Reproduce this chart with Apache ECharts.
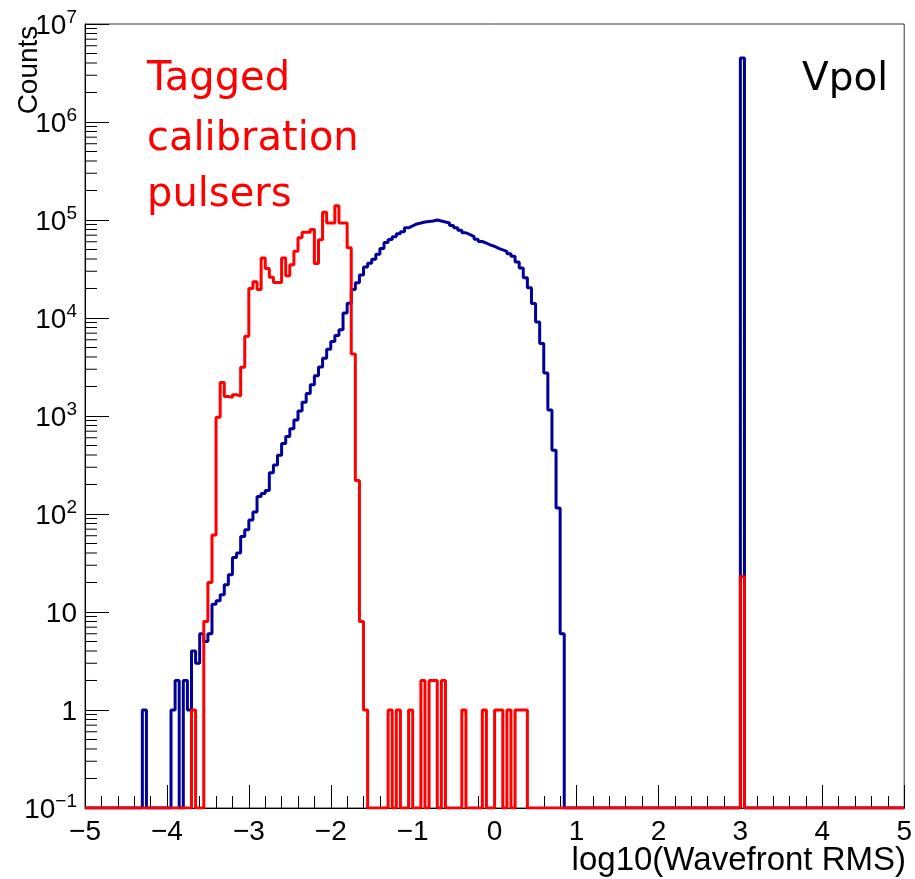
<!DOCTYPE html>
<html>
<head>
<meta charset="utf-8">
<script src="https://cdn.jsdelivr.net/npm/echarts@6/dist/echarts.min.js"></script>
<style>
  html, body { margin: 0; padding: 0; background: #ffffff; }
  #chart { width: 915px; height: 879px; }
</style>
</head>
<body>
<div id="chart"></div>
<script>
// ---- histogram binning ----
const X_MIN = -5;
const X_MAX = 5;
const BIN_WIDTH = 0.05;
const Y_FLOOR = 0.1;

// ---- axis ticks ----
const xTickValues = [-5, -4, -3, -2, -1, 0, 1, 2, 3, 4, 5];
const yDecades = [-1, 0, 1, 2, 3, 4, 5, 6, 7];
const yMinorMultipliers = [2, 3, 4, 5, 6, 7, 8, 9];

// ---- Vpol (all events), blue ----
const blueIsolated = [[-4.30, 1], [3.00, 4500000]];
const blueMainStart = -3.95;
const blueMainCounts = [
  1, 2, 0, 2, 1, 4, 3, 6, 5, 6,
  12, 13, 15, 19, 24, 36, 40, 59, 69, 87,
  105, 151, 162, 174, 263, 316, 398, 525, 617, 741,
  912, 1122, 1380, 1700, 2090, 2570, 3160, 3890, 4790, 5750,
  6610, 7590, 11220, 14125, 19500, 22900, 27500, 33100, 36300, 39800,
  44700, 51300, 58900, 63100, 67600, 72400, 75900, 83200, 87100, 91200,
  93300, 95500, 96600, 97700, 100000, 97700, 95500, 93300, 88100, 83200,
  78500, 74100, 70800, 67600, 63800, 60300, 58200, 55600, 53700, 51300,
  49500, 47900, 45200, 42700, 37200, 32400, 25700, 20400, 14100, 9120,
  5500, 2750, 1150, 447, 115, 6
];

// ---- Tagged calibration pulsers, red ----
const redIsolated = [[-3.70, 1], [3.00, 23]];
const redMainStart = -3.55;
const redMainCounts = [
  8, 20, 61, 970, 2200, 1580, 1550, 1650, 1600, 3150,
  6500, 20000, 23500, 19500, 41000, 32000, 26000, 23000, 23000, 41000,
  27000, 35000, 48000, 66000, 75000, 75000, 80000, 36000, 63000, 120000,
  93000, 93000, 140000, 93000, 93000, 52000, 4300, 220, 8, 1
];
const redSparseStart = -1.30;
const redSparseCounts = [
  1, 0, 1, 0, 0, 1, 0, 0, 2, 0,
  2, 2, 0, 2, 0, 0, 0, 0, 1, 0,
  0, 0, 0, 1, 0, 0, 1, 1, 0, 1,
  0, 1, 1, 1
];

// ---- build histogram step data ----
const N_BINS = Math.round((X_MAX - X_MIN) / BIN_WIDTH);
function emptyBins() { return new Array(N_BINS).fill(0); }
function binIndex(x) { return Math.round((x - X_MIN) / BIN_WIDTH); }
function fillRun(bins, start, counts) {
  const i0 = binIndex(start);
  counts.forEach((c, j) => { bins[i0 + j] = c; });
}
function fillIsolated(bins, list) {
  list.forEach(([x, c]) => { bins[binIndex(x)] = c; });
}
function stepData(bins) {
  const d = [];
  for (let i = 0; i < N_BINS; i++) {
    const x = +(X_MIN + i * BIN_WIDTH).toFixed(4);
    d.push([x, bins[i] > 0 ? bins[i] : Y_FLOOR]);
  }
  d.push([X_MAX, Y_FLOOR]);
  return d;
}
const blueBins = emptyBins();
fillRun(blueBins, blueMainStart, blueMainCounts);
fillIsolated(blueBins, blueIsolated);
const redBins = emptyBins();
fillRun(redBins, redMainStart, redMainCounts);
fillRun(redBins, redSparseStart, redSparseCounts);
fillIsolated(redBins, redIsolated);

const yMinorTicks = [];
yDecades.slice(0, -1).forEach(e => {
  yMinorMultipliers.forEach(m => yMinorTicks.push([X_MIN, m * Math.pow(10, e)]));
});

const FONT = '"Liberation Sans", Arial, Helvetica, sans-serif';
const ANNOT_FONT = '"DejaVu Sans", sans-serif';
const MINUS = '\u2212';

const chart = echarts.init(document.getElementById('chart'), null, { renderer: 'canvas' });

const option = {
  animation: false,
  backgroundColor: '#ffffff',
  grid: {
    left: 85, right: 8, top: 24, bottom: 71,
    show: true, borderColor: '#333', borderWidth: 1, backgroundColor: 'transparent'
  },
  xAxis: {
    type: 'value',
    min: X_MIN, max: X_MAX, interval: 1,
    axisLine: { show: true, onZero: false, lineStyle: { color: '#000', width: 1 } },
    axisTick: { show: true, inside: true, length: 23, lineStyle: { color: '#000', width: 1 } },
    minorTick: { show: true, splitNumber: 5, length: 12, lineStyle: { color: '#000', width: 1 } },
    splitLine: { show: false },
    axisLabel: {
      show: true, margin: 10, color: '#000', fontSize: 28, fontFamily: FONT,
      showMinLabel: true, showMaxLabel: true,
      formatter: v => (v < 0 ? MINUS + Math.abs(v) : String(v))
    }
  },
  yAxis: {
    type: 'log', logBase: 10, min: Y_FLOOR, max: 1e7, splitNumber: 8,
    axisLine: { show: true, onZero: false, lineStyle: { color: '#000', width: 1 } },
    axisTick: { show: true, inside: true, length: 24, lineStyle: { color: '#000', width: 1 } },
    minorTick: { show: false },
    splitLine: { show: false },
    axisLabel: {
      show: true, margin: 8, color: '#000',
      showMinLabel: true, showMaxLabel: true,
      formatter: v => {
        const e = Math.round(Math.log10(v));
        if (e === 0) return '{b|1}';
        if (e === 1) return '{b|10}';
        return '{b|10}{s|' + (e < 0 ? MINUS : '') + Math.abs(e) + '}';
      },
      rich: {
        b: { fontSize: 28, fontFamily: FONT, color: '#000', lineHeight: 32, verticalAlign: 'bottom' },
        s: { fontSize: 19, fontFamily: FONT, color: '#000', lineHeight: 32, verticalAlign: 'top' }
      }
    }
  },
  series: [
    {
      type: 'custom',
      name: 'yMinorTicks',
      silent: true,
      z: 1,
      data: yMinorTicks,
      renderItem: (params, api) => {
        const p = api.coord([api.value(0), api.value(1)]);
        return {
          type: 'line',
          shape: { x1: p[0], y1: p[1], x2: p[0] + 12, y2: p[1] },
          style: { stroke: '#000', lineWidth: 1 }
        };
      }
    },
    {
      type: 'line',
      name: 'Vpol',
      step: 'end',
      data: stepData(blueBins),
      showSymbol: false,
      symbol: 'none',
      lineStyle: { color: '#000099', width: 3 },
      z: 3
    },
    {
      type: 'line',
      name: 'Tagged calibration pulsers',
      step: 'end',
      data: stepData(redBins),
      showSymbol: false,
      symbol: 'none',
      lineStyle: { color: '#ff0000', width: 3 },
      z: 4
    }
  ],
  graphic: [
    {
      type: 'text', x: 29, y: 70, rotation: Math.PI / 2,
      style: { text: 'Counts', font: '28px ' + FONT, fill: '#000', align: 'center', verticalAlign: 'middle', textAlign: 'center', textVerticalAlign: 'middle' }
    },
    {
      type: 'text', x: 906, y: 861,
      style: { text: 'log10(Wavefront RMS)', font: '33px ' + FONT, fill: '#000', align: 'right', verticalAlign: 'middle', textAlign: 'right', textVerticalAlign: 'middle' }
    },
    {
      type: 'text', x: 147, y: 80,
      style: { text: 'Tagged', font: '40px ' + ANNOT_FONT, fill: '#ff0000', align: 'left', verticalAlign: 'middle', textAlign: 'left', textVerticalAlign: 'middle' }
    },
    {
      type: 'text', x: 147, y: 140,
      style: { text: 'calibration', font: '40px ' + ANNOT_FONT, fill: '#ff0000', align: 'left', verticalAlign: 'middle', textAlign: 'left', textVerticalAlign: 'middle' }
    },
    {
      type: 'text', x: 147, y: 196,
      style: { text: 'pulsers', font: '40px ' + ANNOT_FONT, fill: '#ff0000', align: 'left', verticalAlign: 'middle', textAlign: 'left', textVerticalAlign: 'middle' }
    },
    {
      type: 'text', x: 802, y: 80,
      style: { text: 'Vpol', font: '39px ' + ANNOT_FONT, fill: '#000', align: 'left', verticalAlign: 'middle', textAlign: 'left', textVerticalAlign: 'middle' }
    }
  ]
};
chart.setOption(option);
</script>
</body>
</html>
